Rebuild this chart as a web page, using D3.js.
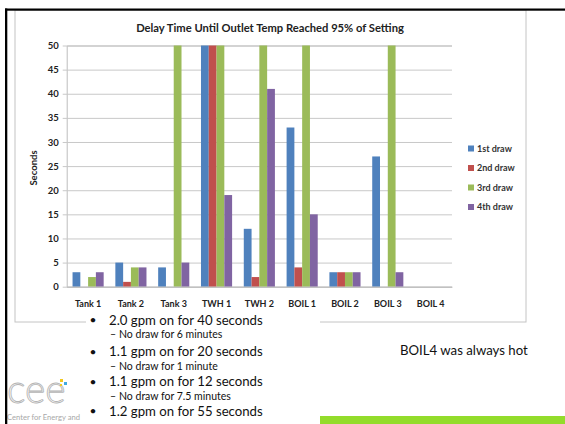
<!DOCTYPE html>
<html>
<head>
<meta charset="utf-8">
<script src="https://cdn.jsdelivr.net/npm/d3@7"></script>
<style>
html,body{margin:0;padding:0;background:#fff;}
svg{display:block;}
text{font-family:Lato,"Open Sans",sans-serif;}
</style>
</head>
<body>
<svg id="c" width="565" height="424"></svg>
<script>
const categories = ["Tank 1","Tank 2","Tank 3","TWH 1","TWH 2","BOIL 1","BOIL 2","BOIL 3","BOIL 4"];
const seriesNames = ["1st draw","2nd draw","3rd draw","4th draw"];
const draw1 = [3, 5, 4, 50, 12, 33, 3, 27, 0];
const draw2 = [0, 1, 0, 50, 2, 4, 3, 0, 0];
const draw3 = [2, 4, 50, 50, 50, 50, 3, 50, 0];
const draw4 = [3, 4, 5, 19, 41, 15, 3, 3, 0];
const yTicks = [0,5,10,15,20,25,30,35,40,45,50];
const colors = ["#4F81BD","#C0504D","#9BBB59","#8064A2"];
const title = "Delay Time Until Outlet Temp Reached 95% of Setting";
const yLabel = "Seconds";
const bullets = [
  {t:"2.0 gpm on for 40 seconds", lvl:0},
  {t:"No draw for 6 minutes", lvl:1},
  {t:"1.1 gpm on for 20 seconds", lvl:0},
  {t:"No draw for 1 minute", lvl:1},
  {t:"1.1 gpm on for 12 seconds", lvl:0},
  {t:"No draw for 7.5 minutes", lvl:1},
  {t:"1.2 gpm on for 55 seconds", lvl:0}
];
const note = "BOIL4 was always hot";

const series = [draw1, draw2, draw3, draw4];
const data = categories.map((c,i)=>({cat:c, vals: series.map((s,j)=>({name:seriesNames[j], v:s[i], j}))}));

const svg = d3.select("#c");

// logo (drawn first, later partially covered by text box)
const logo = svg.append("g");
logo.append("text").attr("x",7).attr("y",402.5).attr("font-size",39).attr("font-weight",300)
  .attr("fill","#fff").attr("stroke","#b5b5b5").attr("stroke-width",0.9).text("cee");
logo.append("rect").attr("x",60).attr("y",379).attr("width",3).attr("height",3).attr("fill","#f2c81e");
logo.append("rect").attr("x",64).attr("y",382).attr("width",3).attr("height",3).attr("fill","#3fa9e0");
logo.append("rect").attr("x",60).attr("y",384).attr("width",2).attr("height",2).attr("fill","#f2c81e");
logo.append("text").attr("x",7).attr("y",419.5).attr("font-size",7.6).attr("fill","#a8a8a8").text("Center for Energy and");

// chart frame
svg.append("rect").attr("x",15).attr("y",10).attr("width",511).attr("height",312)
  .attr("fill","none").attr("stroke","#c4c4c4").attr("stroke-width",1);

const x0 = d3.scaleBand().domain(categories).range([66.7,452]).paddingInner(0.273).paddingOuter(0.1365);
const x1 = d3.scaleBand().domain(seriesNames).range([0,x0.bandwidth()]);
const y = d3.scaleLinear().domain([0,50]).range([286.7,45.5]);

// gridlines + y axis
const yAxis = d3.axisLeft(y).tickValues(yTicks).tickSize(-(452-66.7)).tickPadding(8);
const gy = svg.append("g").attr("transform","translate(66.7,0)").call(yAxis);
gy.select(".domain").attr("stroke","#bdbdbd");
gy.selectAll(".tick line").attr("stroke","#c8c8c8").attr("x1",-4);
gy.selectAll(".tick text").attr("font-size",9.5).attr("font-weight",700).attr("fill","#222");

// bars
const g = svg.append("g");
g.selectAll("g.grp").data(data).join("g").attr("class","grp")
  .attr("transform",d=>`translate(${x0(d.cat)},0)`)
  .selectAll("rect").data(d=>d.vals).join("rect")
  .attr("x",d=>x1(d.name)).attr("width",x1.bandwidth())
  .attr("y",d=>y(d.v)).attr("height",d=>y(0)-y(d.v))
  .attr("fill",d=>colors[d.j]);

// x axis
const xAxis = d3.axisBottom(x0).tickSize(0).tickPadding(14);
const gx = svg.append("g").attr("transform","translate(0,286.7)").call(xAxis);
gx.select(".domain").attr("stroke","#bdbdbd");
gx.selectAll(".tick text").attr("font-size",9).attr("font-weight",700).attr("fill","#222");

// title
svg.append("text").attr("x",270).attr("y",31.5).attr("text-anchor","middle")
  .attr("font-size",11.2).attr("font-weight",700).attr("fill","#222").text(title);

// y label
svg.append("text").attr("transform","translate(37,168) rotate(-90)").attr("text-anchor","middle")
  .attr("font-size",9.5).attr("font-weight",700).attr("fill","#222").text(yLabel);

// legend
const lg = svg.append("g").selectAll("g").data(seriesNames).join("g")
  .attr("transform",(d,i)=>`translate(468,${148.5+i*19.5})`);
lg.append("rect").attr("x",0).attr("y",-3).attr("width",6).attr("height",6).attr("fill",(d,i)=>colors[i]);
lg.append("text").attr("x",9).attr("y",3.2).attr("font-size",9).attr("font-weight",700).attr("fill","#333").text(d=>d);

// text box overlay
svg.append("rect").attr("x",86).attr("y",313).attr("width",234).attr("height",111).attr("fill","#fff");
const by = [320,334.5,351.5,366.5,381.5,396,411];
bullets.forEach((b,i)=>{
  if(b.lvl===0){
    svg.append("text").attr("x",93).attr("y",by[i]+4).attr("font-size",12).attr("text-anchor","middle").attr("fill","#111").text("•");
    svg.append("text").attr("x",109).attr("y",by[i]+4.5).attr("font-size",13.2).attr("fill","#111").text(b.t);
  } else {
    svg.append("text").attr("x",113).attr("y",by[i]+3.5).attr("font-size",10.5).attr("text-anchor","middle").attr("fill","#111").text("–");
    svg.append("text").attr("x",119).attr("y",by[i]+3.7).attr("font-size",10.5).attr("fill","#111").text(b.t);
  }
});
svg.append("text").attr("x",400).attr("y",355).attr("font-size",13.2).attr("fill","#111").text(note);

// green bar
svg.append("rect").attr("x",320).attr("y",416).attr("width",245).attr("height",8).attr("fill","#93dc2b");

// black slide border
svg.append("rect").attr("x",5).attr("y",8.5).attr("width",2.3).attr("height",415.5).attr("fill","#000");
svg.append("rect").attr("x",5).attr("y",8.5).attr("width",560).attr("height",2.2).attr("fill","#000");
</script>
</body>
</html>
